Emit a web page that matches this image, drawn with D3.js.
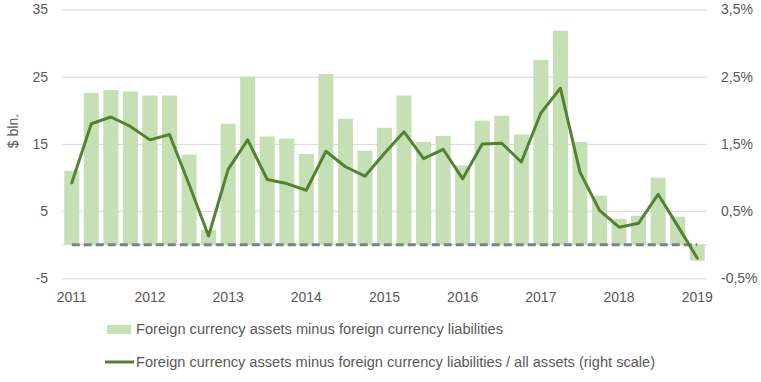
<!DOCTYPE html>
<html>
<head>
<meta charset="utf-8">
<script src="https://cdn.jsdelivr.net/npm/d3@7"></script>
<style>
  html, body { margin: 0; padding: 0; background: #fff; }
  svg { display: block; }
  text { font-family: "Liberation Sans", Arial, sans-serif; fill: #595959; }
</style>
</head>
<body>
<svg id="chart" width="761" height="382"></svg>
<script>
// ---- data ----
const years = ["2011","2012","2013","2014","2015","2016","2017","2018","2019"];
const quarters = ["Q1","Q2","Q3","Q4"];
const categories = [];
years.forEach(y => quarters.forEach(q => { if (categories.length < 33) categories.push(y + q); }));

const fxNet = [11.0, 22.6, 23.0, 22.8, 22.2, 22.2, 13.4, 2.2, 18.0, 25.0,
               16.1, 15.8, 13.5, 25.4, 18.75, 14.0, 17.4, 22.2, 15.3, 16.2,
               11.8, 18.45, 19.2, 16.4, 27.5, 31.85, 15.3, 7.3, 3.87, 4.3,
               9.97, 4.17, -2.38];
const fxShare = [0.92, 1.80, 1.90, 1.76, 1.56, 1.64, 0.90, 0.13, 1.12, 1.56,
                 0.97, 0.91, 0.81, 1.39, 1.16, 1.02, 1.36, 1.68, 1.28, 1.42,
                 0.98, 1.50, 1.51, 1.23, 1.96, 2.33, 1.08, 0.51, 0.26, 0.32,
                 0.75, 0.28, -0.20];
const leftTicks = [-5, 5, 15, 25, 35];
const rightTicks = [-0.5, 0.5, 1.5, 2.5, 3.5];
const yearTickLabels = years;
const seriesNames = ["Foreign currency assets minus foreign currency liabilities",
                     "Foreign currency assets minus foreign currency liabilities / all assets (right scale)"];
const yTitle = "$ bln.";

// ---- layout ----
const svg = d3.select("#chart");
const plot = { left: 62, right: 707, top: 9.5, bottom: 278.3 };
const barColor = "#c5e0b4", lineColor = "#548235";

const x = d3.scaleBand().domain(categories).range([plot.left, plot.right])
  .paddingInner(0.23).paddingOuter(0.115);
const yL = d3.scaleLinear().domain([-5, 35]).range([plot.bottom, plot.top]);
const yR = d3.scaleLinear().domain([-0.5, 3.5]).range([plot.bottom, plot.top]);

// gridlines
const grid = svg.append("g").attr("transform", `translate(${plot.left},0)`)
  .call(d3.axisLeft(yL).tickValues(leftTicks).tickSize(-(plot.right - plot.left)).tickFormat(""));
grid.select(".domain").remove();
grid.selectAll("line").attr("stroke", "#d9d9d9").attr("stroke-width", 1);

// zero axis line
svg.append("line")
  .attr("x1", plot.left).attr("x2", plot.right)
  .attr("y1", yL(0)).attr("y2", yL(0))
  .attr("stroke", "#d9d9d9").attr("stroke-width", 1);

// bars
svg.append("g").selectAll("rect").data(fxNet).enter().append("rect")
  .attr("x", (d, i) => x(categories[i]))
  .attr("width", x.bandwidth())
  .attr("y", d => yL(Math.max(0, d)))
  .attr("height", d => Math.abs(yL(d) - yL(0)))
  .attr("fill", barColor);

// dashed zero line
svg.append("line")
  .attr("x1", x(categories[0]) + x.bandwidth() / 2)
  .attr("x2", x(categories[categories.length - 1]) + x.bandwidth() / 2)
  .attr("y1", yL(0)).attr("y2", yL(0))
  .attr("stroke", "#808080").attr("stroke-width", 3)
  .attr("stroke-dasharray", "8,4");

// line series (right scale)
const line = d3.line()
  .x((d, i) => x(categories[i]) + x.bandwidth() / 2)
  .y(d => yR(d));
svg.append("path").datum(fxShare)
  .attr("d", line)
  .attr("fill", "none")
  .attr("stroke", lineColor)
  .attr("stroke-width", 3)
  .attr("stroke-linejoin", "round")
  .attr("stroke-linecap", "round");

// left axis labels
const la = svg.append("g").attr("transform", `translate(48,0)`)
  .call(d3.axisLeft(yL).tickValues(leftTicks).tickSize(0).tickPadding(0).tickFormat(d => String(d)));
la.select(".domain").remove();
la.selectAll("text").style("font-size", "14px").style("font-family", "Liberation Sans, Arial, sans-serif").attr("fill", "#595959");

// right axis labels
const fmtPct = d => d.toFixed(1).replace(".", ",") + "%";
const ra = svg.append("g").attr("transform", `translate(721,0)`)
  .call(d3.axisRight(yR).tickValues(rightTicks).tickSize(0).tickPadding(0).tickFormat(fmtPct));
ra.select(".domain").remove();
ra.selectAll("text").style("font-size", "14px").style("font-family", "Liberation Sans, Arial, sans-serif").attr("fill", "#595959");

// bottom axis year labels
const q1 = categories.filter(c => c.endsWith("Q1"));
const ba = svg.append("g").attr("transform", `translate(0,292)`)
  .call(d3.axisBottom(x).tickValues(q1).tickSize(0).tickPadding(0)
    .tickFormat(c => yearTickLabels[years.indexOf(c.slice(0, 4))]));
ba.select(".domain").remove();
ba.selectAll("text").style("font-size", "14px").style("font-family", "Liberation Sans, Arial, sans-serif").attr("fill", "#595959");

// y title
svg.append("text")
  .attr("transform", "translate(18,131) rotate(-90)")
  .attr("text-anchor", "middle")
  .style("font-size", "14px")
  .text(yTitle);

// legend
svg.append("rect").attr("x", 107).attr("y", 325).attr("width", 24).attr("height", 9).attr("fill", barColor);
svg.append("text").attr("x", 136).attr("y", 334).style("font-size", "14px")
  .attr("textLength", 367).attr("lengthAdjust", "spacingAndGlyphs").text(seriesNames[0]);
svg.append("line").attr("x1", 105).attr("x2", 134).attr("y1", 362).attr("y2", 362)
  .attr("stroke", lineColor).attr("stroke-width", 3);
svg.append("text").attr("x", 136).attr("y", 367).style("font-size", "14px")
  .attr("textLength", 519).attr("lengthAdjust", "spacingAndGlyphs").text(seriesNames[1]);
</script>
</body>
</html>
